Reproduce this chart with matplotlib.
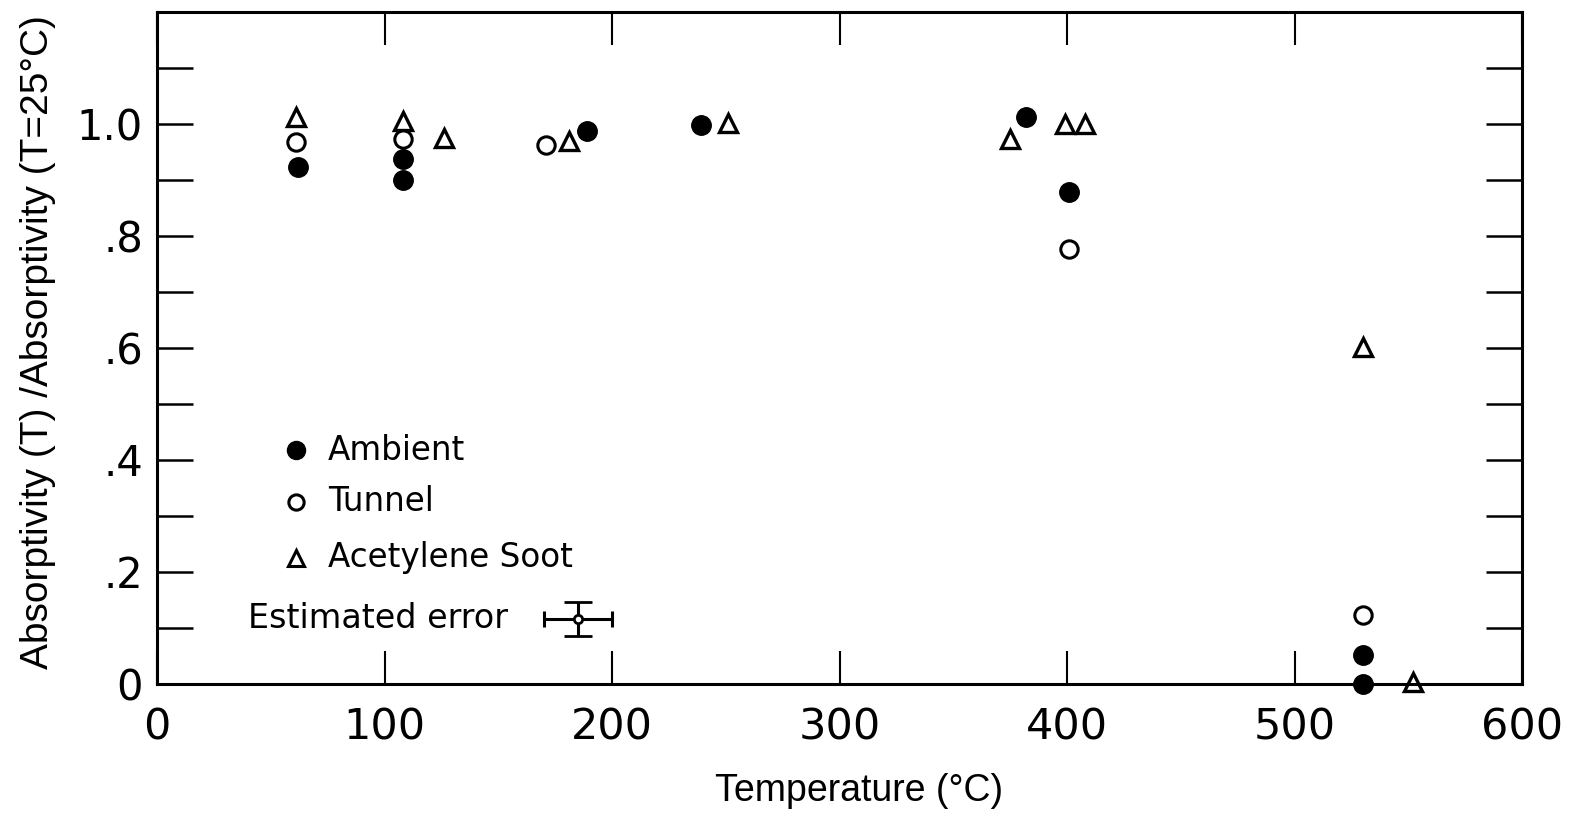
import numpy as np
import matplotlib.pyplot as plt
from matplotlib.ticker import FixedLocator, FuncFormatter

# Data: temperature (C) and absorptivity ratio
ambient_t = [62, 108, 108, 189, 239, 382, 401, 530, 530]
ambient_r = [0.923, 0.938, 0.900, 0.988, 0.998, 1.013, 0.879, 0.052, 0.0]

tunnel_t = [61, 108, 171, 401, 530]
tunnel_r = [0.968, 0.973, 0.963, 0.777, 0.123]

soot_t = [61, 108, 126, 181, 251, 375, 399, 408, 530, 552]
soot_r = [1.013, 1.005, 0.975, 0.970, 1.002, 0.973, 1.0, 1.0, 0.602, 0.004]

# estimated error sample shown in the key
err_t, err_r = 185, 0.116
err_dt, err_dr = 15, 0.03

x_ticks = [0, 100, 200, 300, 400, 500, 600]
y_ticks = np.round(np.arange(0, 1.15, 0.1), 1)
y_labels = {0.0: '0', 0.2: '.2', 0.4: '.4', 0.6: '.6', 0.8: '.8', 1.0: '1.0'}

label_font = ['Liberation Sans', 'DejaVu Sans']

fig = plt.figure(figsize=(15.85, 8.33), dpi=100)
ax = fig.add_axes([157 / 1585, 149 / 833, 1365 / 1585, 672 / 833])

ax.plot(ambient_t, ambient_r, 'o', color='black', markersize=14, clip_on=False)
ax.plot(tunnel_t, tunnel_r, 'o', markerfacecolor='white', markeredgecolor='black',
        markersize=12.5, markeredgewidth=2.2, clip_on=False)
ax.plot(soot_t, soot_r, '^', markerfacecolor='white', markeredgecolor='black',
        markersize=13, markeredgewidth=2.4, clip_on=False)

# error bar sample: wide caps on the vertical bar, short ones on the horizontal
ax.errorbar(err_t, err_r, xerr=err_dt, fmt='none', ecolor='black',
            elinewidth=2.2, capsize=6, capthick=2.2)
ax.errorbar(err_t, err_r, yerr=err_dr, fmt='o', color='black',
            markerfacecolor='white', markersize=6, markeredgewidth=2,
            elinewidth=2.2, capsize=10, capthick=2.4)

# key, drawn by hand like the original
key_x = 0.1018
ax.plot(key_x, 0.348, 'o', color='black', markersize=13, transform=ax.transAxes)
ax.plot(key_x, 0.271, 'o', markerfacecolor='white', markeredgecolor='black',
        markersize=11, markeredgewidth=2.2, transform=ax.transAxes)
ax.plot(key_x, 0.188, '^', markerfacecolor='white', markeredgecolor='black',
        markersize=12, markeredgewidth=2.2, transform=ax.transAxes)
for label, yy in [('Ambient', 0.348), ('Tunnel', 0.271), ('Acetylene Soot', 0.188)]:
    ax.text(0.125, yy, label, transform=ax.transAxes, fontsize=23.5, va='center')
ax.text(0.0667, 0.098, 'Estimated error', transform=ax.transAxes, fontsize=24, va='center')

ax.set_xlim(0, 600)
ax.set_ylim(0, 1.2)
ax.xaxis.set_major_locator(FixedLocator(x_ticks))
ax.yaxis.set_major_locator(FixedLocator(y_ticks))
ax.yaxis.set_major_formatter(FuncFormatter(lambda v, p: y_labels.get(round(v, 1), '')))

ax.tick_params(axis='x', direction='in', length=24, width=1.5, top=True,
               labelsize=31, pad=16)
ax.tick_params(axis='y', direction='in', length=26, width=1.8, right=True,
               labelsize=30, pad=10)
for s in ax.spines.values():
    s.set_linewidth(2.2)

ax.set_xlabel('Temperature (°C)', fontsize=27, family=label_font)
ax.xaxis.set_label_coords(0.514, -0.132)
ax.set_ylabel('Absorptivity (T) /Absorptivity (T=25°C)', fontsize=28, family=label_font)
ax.yaxis.set_label_coords(-0.074, 0.509)

fig.savefig('out.png', dpi=100)
